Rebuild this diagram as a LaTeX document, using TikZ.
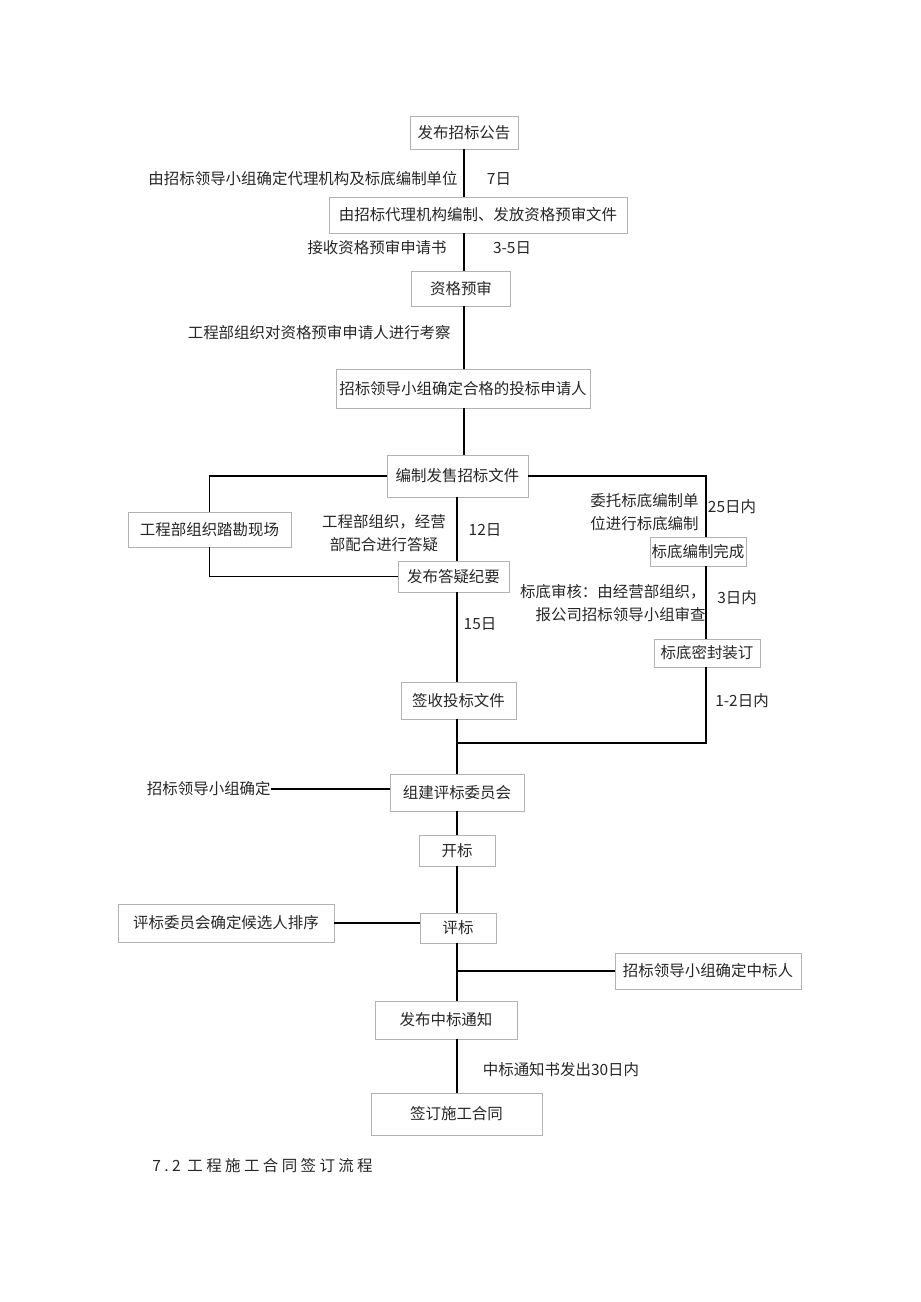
\documentclass[tikz,border=0pt]{standalone}
\usepackage{fontspec}
\newfontfamily\cjk{Noto Sans CJK SC}
\usepackage{tikz}

\tikzset{
  box/.style 2 args={draw=black!30, line width=0.4pt, fill=white, inner sep=0pt,
    minimum width=#1*0.02cm, minimum height=#2*0.02cm},
  lbl/.style={inner sep=0pt},
  link/.style={black, line width=0.8pt},
}

\begin{document}
\begin{tikzpicture}[x=0.02cm, y=-0.02cm, font=\cjk\fontsize{8.8}{13}\selectfont, text=black!85]
\useasboundingbox (0,0) rectangle (920,1302);

\coordinate (up) at (464,0);
\coordinate (lo) at (457,0);
\coordinate (rc) at (706,0);
\coordinate (join) at (457,743);

\node[box={108}{33}]  (pub)    at (464,132.5) {发布招标公告};
\node[box={298}{36}]  (doc)    at (478,215)   {由招标代理机构编制、发放资格预审文件};
\node[box={99}{35}]   (prq)    at (461,288.5) {资格预审};
\node[box={254}{39}]  (qual)   at (463,388.5) {招标领导小组确定合格的投标申请人};
\node[box={141}{42}]  (issue)  at (457.5,476) {编制发售招标文件};
\node[box={163}{35}]  (site)   at (209.5,529.5) {工程部组织踏勘现场};
\node[box={111}{31}]  (answ)   at (453.5,576.5) {发布答疑纪要};
\node[box={96}{29}]   (bdone)  at (698,551.5) {标底编制完成};
\node[box={106}{28}]  (bseal)  at (707,653)   {标底密封装订};
\node[box={115}{37}]  (recv)   at (458.5,700.5) {签收投标文件};
\node[box={134}{37}]  (panel)  at (457,792.5) {组建评标委员会};
\node[box={76}{31}]   (open)   at (457,850.5) {开标};
\node[box={216}{38}]  (cand)   at (226,923)   {评标委员会确定候选人排序};
\node[box={76}{30}]   (eval)   at (458,928)   {评标};
\node[box={186}{36}]  (win)    at (708,971)   {招标领导小组确定中标人};
\node[box={142}{38}]  (notice) at (446,1020)  {发布中标通知};
\node[box={171}{42}]  (sign)   at (456.5,1114) {签订施工合同};

\node[lbl, anchor=east] (agent) at (458,179) {由招标领导小组确定代理机构及标底编制单位};
\node[lbl] (d7)    at (499,179) {7日};
\node[lbl, anchor=east] (apply) at (447,248) {接收资格预审申请书};
\node[lbl] (d35)   at (512,248) {3-5日};
\node[lbl, anchor=east] (visit) at (451,333) {工程部组织对资格预审申请人进行考察};
\node[lbl, align=center] (reply) at (384,533) {工程部组织，经营\\部配合进行答疑};
\node[lbl] (d12)   at (485,530) {12日};
\node[lbl, align=right, anchor=east] (entrust) at (699,512) {委托标底编制单\\位进行标底编制};
\node[lbl] (d25)   at (732,507) {25日内};
\node[lbl, align=right, anchor=east] (audit) at (706,603) {标底审核：由经营部组织，\\报公司招标领导小组审查};
\node[lbl] (d3)    at (737,598) {3日内};
\node[lbl] (d15)   at (480,624) {15日};
\node[lbl] (d12b)  at (742,701) {1-2日内};
\node[lbl, anchor=east] (lead) at (271,789) {招标领导小组确定};
\node[lbl] (d30)   at (561,1070) {中标通知书发出30日内};
\node[lbl, anchor=west] (title) at (152,1166) {\addfontfeature{LetterSpace=22}7.2 工程施工合同签订流程};

\draw[link] (pub.south -| up) -- (doc.north -| up);
\draw[link] (doc.south -| up) -- (prq.north -| up);
\draw[link] (prq.south -| up) -- (qual.north -| up);
\draw[link] (qual.south -| up) -- (issue.north -| up);
\draw[link] (issue.west) -| (site.north);
\draw[link] (site.south) |- (answ.west);
\draw[link] (issue.south -| lo) -- (answ.north -| lo);
\draw[link] (answ.south -| lo) -- (recv.north -| lo);
\draw[link] (recv.south -| lo) -- (panel.north -| lo);
\draw[link] (issue.east) -| (bdone.north -| rc);
\draw[link] (bdone.south -| rc) -- (bseal.north -| rc);
\draw[link] (bseal.south -| rc) |- (join);
\draw[link] (lead.east) -- (lead.east -| panel.west);
\draw[link] (panel.south -| lo) -- (open.north -| lo);
\draw[link] (open.south -| lo) -- (eval.north -| lo);
\draw[link] (cand.east) -- (cand.east -| eval.west);
\draw[link] (eval.south -| lo) -- (notice.north -| lo);
\draw[link] (win.west) -- (win.west -| lo);
\draw[link] (notice.south -| lo) -- (sign.north -| lo);
\end{tikzpicture}
\end{document}
